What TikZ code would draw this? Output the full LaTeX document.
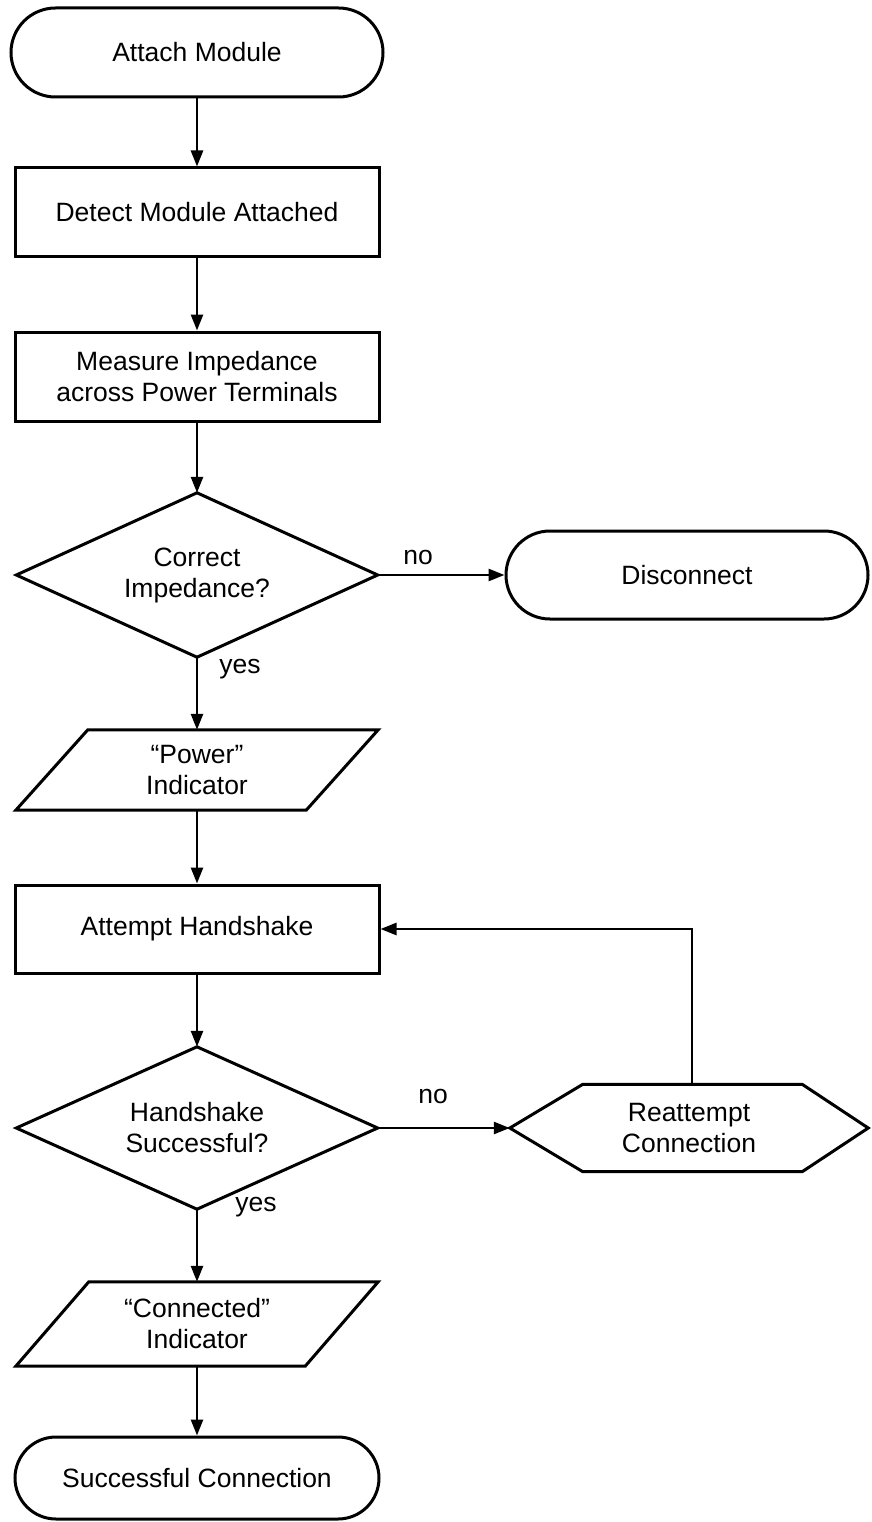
\documentclass[tikz,border=0pt]{standalone}
\usepackage{fontspec}
\setmainfont{Liberation Sans}
\usetikzlibrary{arrows.meta,calc}
\begin{document}
\begin{tikzpicture}[x=1pt,y=-1pt,
  every node/.style={font=\fontsize{26.5}{31}\selectfont, align=center, inner sep=0pt},
  base/.style={draw=black, line width=3pt, line join=miter},
  terminal/.style={base, rectangle},
  process/.style={base, rectangle, minimum width=364pt, minimum height=89pt},
  decbox/.style={rectangle, minimum width=361pt, minimum height=164pt},
  iobox/.style={rectangle, minimum width=362pt},
  prepbox/.style={rectangle, minimum width=358pt, minimum height=87pt},
  flow/.style={line width=2.6pt, -{Triangle[length=16pt,width=12pt]}},
  lbl/.style={font=\fontsize{26.5}{31}\selectfont}
]
\useasboundingbox (0,0) rectangle (871,1522);

% main column, all centred on x = 197
\node[terminal, minimum width=372pt, minimum height=89pt, rounded corners=44.5pt] (attach) at (197,52.5) {Attach Module};
\node[process] (detect) at (197,212.5) {Detect Module Attached};
\node[process] (measure) at (197,376.5) {Measure Impedance\\across Power Terminals};
\node[decbox] (dec1) at (197,575) {Correct\\Impedance?};
\node[terminal, minimum width=362pt, minimum height=88pt, rounded corners=44pt] (disc) at (687,575) {Disconnect};
\node[iobox, minimum height=80pt] (power) at (197,770) {“Power”\\Indicator};
\node[process, minimum height=88pt] (attempt) at (197,929) {Attempt Handshake};
\node[decbox, minimum height=162pt] (dec2) at (197,1128) {Handshake\\Successful?};
\node[prepbox] (reatt) at (689,1128) {Reattempt\\Connection};
\node[iobox, minimum height=84pt] (conn) at (197,1324) {“Connected”\\Indicator};
\node[terminal, minimum width=364pt, minimum height=82pt, rounded corners=41pt] (succ) at (197,1478) {Successful Connection};

% decision diamonds
\draw[base] (dec1.west) -- (dec1.north) -- (dec1.east) -- (dec1.south) -- cycle;
\draw[base] (dec2.west) -- (dec2.north) -- (dec2.east) -- (dec2.south) -- cycle;

% slanted input/output boxes
\draw[base] ($(power.north west)+(72,0)$) -- (power.north east)
  -- ($(power.south east)+(-72,0)$) -- (power.south west) -- cycle;
\draw[base] ($(conn.north west)+(73,0)$) -- (conn.north east)
  -- ($(conn.south east)+(-73,0)$) -- (conn.south west) -- cycle;

% hexagonal preparation box
\draw[base] (reatt.west) -- ($(reatt.north west)+(73,0)$)
  -- ($(reatt.north east)+(-66,0)$) -- (reatt.east)
  -- ($(reatt.south east)+(-66,0)$) -- ($(reatt.south west)+(73,0)$) -- cycle;

% connectors
\draw[flow] (attach) -- (detect);
\draw[flow] (detect) -- (measure);
\draw[flow] (measure.south) -- (dec1.north);
\draw[flow] (dec1.east) -- (disc.west);
\draw[flow] (dec1.south) -- (power.north);
\draw[flow] (power.south) -- (attempt.north);
\draw[flow] (attempt.south) -- (dec2.north);
\draw[flow] (dec2.east) -- (reatt.west);
\draw[flow] ($(reatt.north)+(3,0)$) |- (attempt.east);
\draw[flow] (dec2.south) -- (conn.north);
\draw[flow] (conn.south) -- (succ.north);

% branch labels
\node[lbl] (no1) at (418,557) {no};
\node[lbl] (yes1) at (240,669) {yes};
\node[lbl] (no2) at (433,1096) {no};
\node[lbl] (yes2) at (256,1207) {yes};
\end{tikzpicture}
\end{document}
